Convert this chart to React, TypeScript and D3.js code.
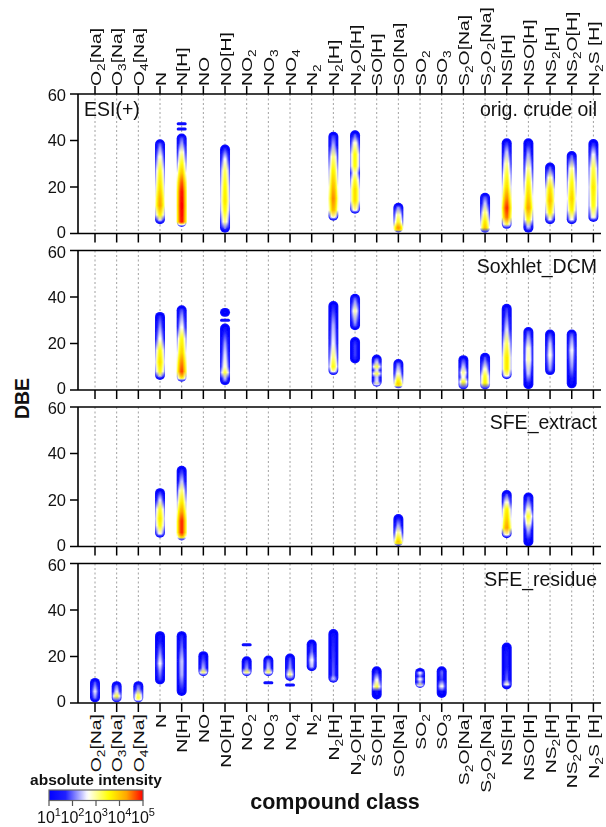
import React from 'react';
import * as d3 from 'd3';

// compound classes (digits are drawn as subscripts)
const categories = [
  'O2[Na]', 'O3[Na]', 'O4[Na]', 'N', 'N[H]', 'NO', 'NO[H]', 'NO2', 'NO3', 'NO4', 'N2', 'N2[H]',
  'N2O[H]', 'SO[H]', 'SO[Na]', 'SO2', 'SO3', 'S2O[Na]', 'S2O2[Na]', 'NS[H]', 'NSO[H]', 'NS2[H]',
  'NS2O[H]', 'N2S [H]',
];

const yTicks = [0, 20, 40, 60];
const legendTicks = [1, 2, 3, 4, 5];

// each bar: segments of [DBE, log10 intensity] stops
type Stop = [number, number];
type Bar = { cls: string; segs: Stop[][] };

const crudeOil: Bar[] = [
  { cls: 'N', segs: [[[4, 1], [5.5, 2.5], [8, 3.6], [12, 4.3], [15, 4.2], [20, 3.8], [27, 3.4], [33, 2.8], [37, 2.2], [40.5, 1]]] },
  { cls: 'N[H]', segs: [
    [[2.8, 1.2], [3.8, 3.5], [5, 4.9], [12, 5], [18, 4.9], [22, 4.6], [26, 4.0], [30, 3.5], [35, 2.9], [39, 2.2], [43, 1]],
    [[44.6, 1], [45.4, 1]],
    [[46.8, 1], [47.6, 1]],
  ] },
  { cls: 'NO[H]', segs: [[[0.3, 1], [2, 2], [5, 3], [10, 3.5], [14, 3.7], [20, 3.55], [27, 3.2], [32, 2.6], [36, 1.8], [38.3, 1]]] },
  { cls: 'N2[H]', segs: [[[5.5, 1], [7, 3], [10, 4.1], [15, 4.4], [20, 4.1], [27, 3.6], [33, 3.1], [38, 2.3], [43.8, 1]]] },
  { cls: 'N2O[H]', segs: [[[8.5, 1], [10, 3], [14, 3.8], [19, 3.8], [23, 3.4], [26, 2.9], [29, 3.5], [34, 3.5], [39, 2.8], [42, 2], [44.4, 1]]] },
  { cls: 'SO[Na]', segs: [[[0.4, 1.2], [1.5, 4.5], [2.8, 4.3], [5, 3.4], [8, 3.0], [11, 2.2], [13.2, 1]]] },
  { cls: 'S2O2[Na]', segs: [[[0.3, 1.3], [2.5, 4.0], [5, 3.7], [9, 3.1], [13, 2.4], [17.5, 1]]] },
  { cls: 'NS[H]', segs: [[[2, 1], [4, 3.3], [7, 4.5], [11, 4.8], [15, 4.4], [20, 3.8], [25, 3.4], [30, 3.0], [35, 2.4], [38.5, 1.8], [41, 1]]] },
  { cls: 'NSO[H]', segs: [[[0.3, 1], [3, 2.4], [6, 3.5], [11, 4.3], [16, 3.9], [22, 3.5], [28, 3.0], [34, 2.3], [38, 1.7], [41, 1]]] },
  { cls: 'NS2[H]', segs: [[[4, 1], [6, 2.6], [9, 3.6], [14, 4.1], [19, 3.8], [24, 3.0], [28, 2.0], [30.5, 1]]] },
  { cls: 'NS2O[H]', segs: [[[4, 1], [6, 2.7], [10, 3.6], [15, 3.9], [22, 3.5], [28, 3.0], [33, 2.0], [35.5, 1]]] },
  { cls: 'N2S [H]', segs: [[[5, 1], [7, 2.8], [12, 3.5], [20, 3.7], [28, 3.3], [34, 2.6], [38, 1.8], [40.6, 1]]] },
];

const soxhletDCM: Bar[] = [
  { cls: 'N', segs: [[[4.3, 1], [5.5, 2.4], [8, 3.5], [12, 3.8], [17, 3.5], [22, 2.7], [27, 2.2], [31, 1.8], [33.6, 1]]] },
  { cls: 'N[H]', segs: [[[3.6, 1], [5, 3.6], [8, 4.7], [12, 4.4], [16, 3.9], [22, 3.5], [27, 2.7], [32, 2.2], [36.4, 1]]] },
  { cls: 'NO[H]', segs: [
    [[2.1, 1], [5, 2.3], [7.5, 3.3], [10, 2.8], [15, 2.5], [20, 2.2], [25, 1.6], [28.6, 1]],
    [[29.6, 1], [30.4, 1]],
    [[31.5, 1], [33.5, 1.3], [35.3, 1]],
  ] },
  { cls: 'N2[H]', segs: [[[6.4, 1], [8, 3.0], [10, 3.5], [14, 3.1], [20, 2.6], [28, 2.3], [34, 1.8], [38.3, 1]]] },
  { cls: 'N2O[H]', segs: [
    [[11.4, 1], [15, 1.8], [19, 1.8], [22.8, 1]],
    [[25.7, 1], [29, 2.2], [34, 2.9], [38, 2.2], [41.4, 1]],
  ] },
  { cls: 'SO[H]', segs: [[[1.4, 1], [2.2, 3.3], [3.8, 2.5], [5.5, 2.4], [7, 3.3], [8.5, 2.5], [10, 3.3], [12, 2.4], [14, 1.8], [15.3, 1]]] },
  { cls: 'SO[Na]', segs: [[[0.7, 1.5], [2, 4.1], [4, 3.6], [7, 2.8], [10, 2.3], [13.3, 1]]] },
  { cls: 'S2O[Na]', segs: [[[0.2, 1.5], [3.5, 3.4], [5.5, 2.7], [7.5, 3.0], [10, 2.4], [13, 1.8], [15, 1]]] },
  { cls: 'S2O2[Na]', segs: [[[0.2, 1.5], [3, 3.6], [6, 3.4], [9, 2.8], [13, 2.0], [16, 1]]] },
  { cls: 'NS[H]', segs: [[[4.6, 1], [6, 3.0], [9, 3.7], [14, 3.7], [20, 3.2], [26, 2.5], [32, 2.0], [37.1, 1]]] },
  { cls: 'NSO[H]', segs: [[[0.3, 1], [3, 1.5], [7, 2.4], [13, 2.9], [18, 2.8], [23, 2.2], [27.1, 1]]] },
  { cls: 'NS2[H]', segs: [[[6.4, 1], [9, 2.2], [15, 2.7], [20, 2.4], [24, 1.8], [26, 1]]] },
  { cls: 'NS2O[H]', segs: [[[0.7, 1], [5, 1.5], [10, 2.2], [17, 2.6], [22, 2.2], [26, 1]]] },
];

const sfeExtract: Bar[] = [
  { cls: 'N', segs: [[[3.8, 1], [5.5, 2.8], [9, 3.5], [12, 3.7], [16, 3.4], [20, 2.5], [23, 1.8], [25.1, 1]]] },
  { cls: 'N[H]', segs: [[[2.6, 1.5], [4, 4.0], [6, 4.8], [11, 4.8], [15, 4.3], [19, 3.7], [24, 3.1], [28, 2.4], [32, 1.8], [34.7, 1]]] },
  { cls: 'SO[Na]', segs: [[[0.2, 1.5], [1.4, 4.3], [3, 3.7], [6, 3.0], [9, 2.3], [12, 1.6], [14, 1]]] },
  { cls: 'NS[H]', segs: [[[3.6, 1], [5, 3.0], [8, 4.3], [12, 3.9], [16, 3.6], [19, 2.8], [22, 2.0], [24.3, 1]]] },
  { cls: 'NSO[H]', segs: [[[0, 1], [3, 1.4], [7, 2.3], [10, 3.0], [13, 3.4], [16, 2.8], [20, 2.0], [23.2, 1]]] },
];

const sfeResidue: Bar[] = [
  { cls: 'O2[Na]', segs: [[[0.2, 1.5], [3, 2.2], [5, 2.5], [8, 2.0], [10.8, 1]]] },
  { cls: 'O3[Na]', segs: [[[0.2, 1.5], [3, 3.3], [5, 2.5], [7.5, 2.0], [9.4, 1]]] },
  { cls: 'O4[Na]', segs: [[[0.2, 2.5], [1.5, 3.4], [3.5, 3.2], [6, 2.2], [9.4, 1]]] },
  { cls: 'N', segs: [[[8, 1], [10, 1.8], [14, 2.2], [17, 2.6], [21, 2.2], [26, 1.6], [30.9, 1]]] },
  { cls: 'N[H]', segs: [[[3, 1], [6, 1.7], [12, 2.3], [18, 2.4], [24, 2.0], [30.9, 1]]] },
  { cls: 'NO', segs: [[[11.5, 1], [13, 3.3], [15, 2.3], [19, 1.8], [22.3, 1]]] },
  { cls: 'NO2', segs: [
    [[11.5, 1], [13, 3.3], [15, 2.2], [18, 1.8], [20.1, 1]],
    [[24.7, 1], [25.5, 1]],
  ] },
  { cls: 'NO3', segs: [
    [[8.2, 1], [9.2, 1]],
    [[11.5, 1], [13, 3.3], [15, 2.4], [17, 2.2], [20.4, 1]],
  ] },
  { cls: 'NO4', segs: [
    [[7.2, 1], [8.2, 1]],
    [[9.5, 1], [12.3, 3.0], [15, 2.2], [18, 2.0], [21.3, 1]],
  ] },
  { cls: 'N2', segs: [[[13.7, 1], [15, 2.3], [18.5, 2.6], [22, 2.0], [27.3, 1]]] },
  { cls: 'N2[H]', segs: [[[8.7, 1], [9.6, 2.7], [12, 2.0], [20, 1.8], [27, 1.6], [31.8, 1]]] },
  { cls: 'SO[H]', segs: [[[1.5, 1], [5, 1.3], [7, 3.3], [10, 2.6], [13, 1.8], [15.8, 1]]] },
  { cls: 'SO2', segs: [[[6.5, 1], [7.3, 3.3], [9, 2.2], [10.3, 2.7], [11.5, 2.0], [13, 2.6], [14, 1.8], [15.1, 1]]] },
  { cls: 'SO3', segs: [[[2.2, 1], [5, 1.3], [7.2, 2.7], [10, 1.8], [13, 2.0], [15.8, 1]]] },
  { cls: 'NS[H]', segs: [[[5.8, 1], [7, 2.0], [8, 2.8], [10, 2.0], [15, 1.7], [20, 1.6], [26, 1]]] },
];

const panels = [
  { label: 'orig. crude oil', bars: crudeOil },
  { label: 'Soxhlet_DCM', bars: soxhletDCM },
  { label: 'SFE_extract', bars: sfeExtract },
  { label: 'SFE_residue', bars: sfeResidue },
];

const FONT = "'Liberation Sans', Arial, sans-serif";
const axisLeft = 78;
const axisRight = 601;
const panelTop0 = 94;
const panelH = 139.5;
const panelStep = 156.5;

const x = d3.scalePoint<string>().domain(categories).range([95, 593.4]);

const intensityColor = d3.scaleLinear<string>()
  .domain([1, 1.7, 2.65, 3.55, 4.3, 5])
  .range(['#0000ff', '#2020ff', '#ffffff', '#ffff00', '#ffa500', '#ff0000'])
  .interpolate(d3.interpolateRgb)
  .clamp(true);

// nested strips: the outer ones sit lower on the colour map, so edges fade towards blue
const layers = [
  { w: 10, off: 1.3, op: 0.95 },
  { w: 7.5, off: 0.75, op: 1 },
  { w: 5, off: 0.3, op: 1 },
  { w: 2.6, off: 0, op: 1 },
];

function labelParts(s: string) {
  const parts: { t: string; sub: boolean }[] = [];
  s.replace(/(\d+)|(\D+)/g, (m: string, d: string) => {
    parts.push({ t: m, sub: !!d });
    return m;
  });
  return parts;
}

function ClassLabel({ cx, y0, text, anchor }: { cx: number; y0: number; text: string; anchor: string }) {
  const parts = labelParts(text);
  let shifted = false;
  return (
    <text
      transform={`translate(${cx},${y0}) rotate(-90) scale(1.25,1)`}
      y={5.5}
      textAnchor={anchor}
      fontFamily={FONT}
      fontSize={15.5}
      fill="#111"
    >
      {parts.map((p, i) => {
        let dy = 0;
        if (p.sub && !shifted) { dy = 4; shifted = true; }
        else if (!p.sub && shifted) { dy = -4; shifted = false; }
        return (
          <tspan key={i} dy={dy} fontSize={p.sub ? 11 : 15.5}>{p.t}</tspan>
        );
      })}
    </text>
  );
}

function Panel({ index, label, bars }: { index: number; label: string; bars: Bar[] }) {
  const top = panelTop0 + index * panelStep;
  const bottom = top + panelH;
  const y = d3.scaleLinear().domain([0, 60]).range([bottom, top]);

  const defs: React.ReactNode[] = [];
  const marks: React.ReactNode[] = [];

  bars.forEach((bar, bi) => {
    const cx = x(bar.cls) as number;
    bar.segs.forEach((seg, si) => {
      const yTop = y(seg[seg.length - 1][0]);
      const yBot = y(seg[0][0]);
      const span = yBot - yTop;
      const h0 = Math.max(span, 3);
      const yc = (yTop + yBot) / 2;
      layers.forEach((L, li) => {
        const inset = (layers[0].w - L.w) / 2;
        const h = h0 - 2 * inset;
        if (h < 1) return;
        let fill: string;
        if (span < 4) {
          fill = intensityColor(d3.max(seg, (s) => s[1])! - L.off);
        } else {
          const id = `g${index}-${bi}-${si}-${li}`;
          defs.push(
            <linearGradient key={id} id={id} gradientUnits="userSpaceOnUse" x1={0} x2={0} y1={yTop} y2={yBot}>
              {seg.slice().reverse().map((s, k) => (
                <stop key={k} offset={(y(s[0]) - yTop) / span} stopColor={intensityColor(s[1] - L.off)} />
              ))}
            </linearGradient>
          );
          fill = `url(#${id})`;
        }
        marks.push(
          <rect
            key={`r${bi}-${si}-${li}`}
            x={cx - L.w / 2}
            y={yc - h / 2}
            width={L.w}
            height={h}
            rx={Math.min(L.w / 2, h / 2)}
            fill={fill}
            opacity={L.op}
          />
        );
      });
    });
  });

  // nudge the end labels apart so the "0" of one panel and "60" of the next do not collide
  const labelShift = (t: number) => (t === 0 ? -1.5 : t === 60 ? 1.5 : 0);

  return (
    <g>
      <defs>{defs}</defs>
      {categories.map((c) => (
        <line key={c} x1={x(c)} x2={x(c)} y1={top} y2={bottom} stroke="#a0a0a0" strokeWidth={1} strokeDasharray="2,2.5" />
      ))}
      <g filter="url(#soft)">{marks}</g>
      <line x1={axisLeft} x2={axisRight} y1={top} y2={top} stroke="#000" strokeWidth={1.6} />
      <line x1={axisLeft} x2={axisRight} y1={bottom} y2={bottom} stroke="#000" strokeWidth={1.6} />
      <line x1={axisLeft} x2={axisLeft} y1={top} y2={bottom} stroke="#000" strokeWidth={1.6} />
      {yTicks.map((t) => (
        <g key={t}>
          <line x1={axisLeft - 8} x2={axisLeft} y1={y(t)} y2={y(t)} stroke="#000" strokeWidth={1.5} />
          <text x={66} y={y(t) + labelShift(t)} dy="0.35em" textAnchor="end" fontFamily={FONT} fontSize={16.5} fill="#111">{t}</text>
        </g>
      ))}
      {categories.map((c) => (
        <line key={`bt-${c}`} x1={x(c)} x2={x(c)} y1={bottom} y2={bottom + 9} stroke="#000" strokeWidth={1.5} />
      ))}
      {index === 0 && categories.map((c) => (
        <line key={`tt-${c}`} x1={x(c)} x2={x(c)} y1={top - 8} y2={top} stroke="#000" strokeWidth={1.5} />
      ))}
      <text x={597} y={top + 22} textAnchor="end" fontFamily={FONT} fontSize={19.5} fill="#111">{label}</text>
      {index === 0 && (
        <text x={84} y={top + 22} fontFamily={FONT} fontSize={19.5} fill="#111">ESI(+)</text>
      )}
    </g>
  );
}

export default function App() {
  const width = 606;
  const height = 827;
  const lastBottom = panelTop0 + 3 * panelStep + panelH;
  const legendX = d3.scaleLinear().domain([1, 5]).range([49, 143]);
  const legendStops = d3.range(0, 41).map((i) => 1 + i * 0.1);

  return (
    <svg width={width} height={height} style={{ position: 'absolute', left: 0, top: 0, background: '#fff' }}>
      <defs>
        <filter id="soft" x="-100%" y="-100%" width="300%" height="300%">
          <feGaussianBlur stdDeviation={0.7} />
        </filter>
        <linearGradient id="legend-grad" x1="0" x2="1" y1="0" y2="0">
          {legendStops.map((v, i) => (
            <stop key={i} offset={(v - 1) / 4} stopColor={intensityColor(v)} />
          ))}
        </linearGradient>
      </defs>
      <rect width={width} height={height} fill="#fff" />

      {panels.map((p, i) => (
        <Panel key={p.label} index={i} label={p.label} bars={p.bars} />
      ))}

      {categories.map((c) => (
        <ClassLabel key={`top-${c}`} cx={x(c) as number} y0={86} text={c} anchor="start" />
      ))}
      {categories.map((c) => (
        <ClassLabel key={`bot-${c}`} cx={x(c) as number} y0={lastBottom + 11} text={c} anchor="end" />
      ))}

      <text
        transform={`translate(29,${(panelTop0 + lastBottom) / 2}) rotate(-90)`}
        textAnchor="middle"
        fontFamily={FONT}
        fontSize={19.5}
        fontWeight="bold"
        fill="#111"
      >DBE</text>
      <text x={335} y={809} textAnchor="middle" fontFamily={FONT} fontSize={21.5} fontWeight="bold" fill="#111">
        compound class
      </text>

      {/* colour legend */}
      <text x={96} y={785} textAnchor="middle" fontFamily={FONT} fontSize={15.5} fontWeight="bold" fill="#111">
        absolute intensity
      </text>
      <rect x={49} y={790} width={94} height={10.5} fill="url(#legend-grad)" stroke="#666" strokeWidth={1.2} />
      {legendTicks.map((t) => (
        <g key={t}>
          <line x1={legendX(t)} x2={legendX(t)} y1={800.5} y2={806} stroke="#555" strokeWidth={1.2} />
          <text x={legendX(t)} y={823} textAnchor="middle" fontFamily={FONT} fontSize={16} fill="#111">
            10<tspan dy={-7} fontSize={11}>{t}</tspan>
          </text>
        </g>
      ))}
    </svg>
  );
}
